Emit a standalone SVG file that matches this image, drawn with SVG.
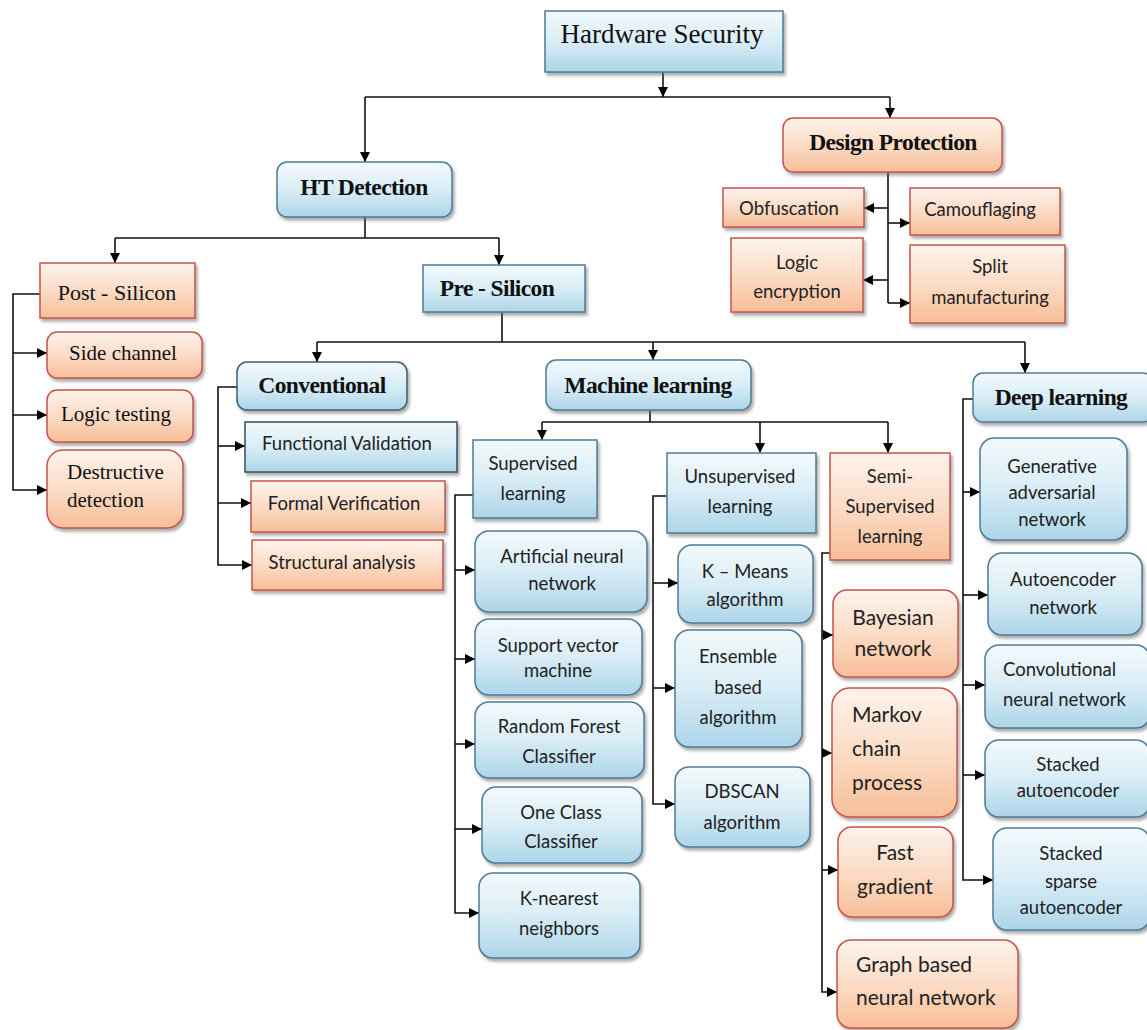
<svg xmlns="http://www.w3.org/2000/svg" width="1147" height="1030" viewBox="0 0 1147 1030">
  <defs>
    <linearGradient id="gBlue" x1="0" y1="0" x2="0" y2="1">
      <stop offset="0" stop-color="#f3f9fc"/>
      <stop offset="0.5" stop-color="#d9edf6"/>
      <stop offset="1" stop-color="#acd5e8"/>
    </linearGradient>
    <linearGradient id="gOrange" x1="0" y1="0" x2="0" y2="1">
      <stop offset="0" stop-color="#fdf3ec"/>
      <stop offset="0.5" stop-color="#fbdcc6"/>
      <stop offset="1" stop-color="#f7be98"/>
    </linearGradient>
    <filter id="shadow" x="-10%" y="-10%" width="130%" height="140%">
      <feDropShadow dx="2" dy="3" stdDeviation="1.6" flood-color="#6a6a6a" flood-opacity="0.55"/>
    </filter>
    <marker id="arrow" viewBox="0 0 10 10" refX="10" refY="5" markerWidth="10" markerHeight="10" markerUnits="userSpaceOnUse" orient="auto">
      <path d="M0,0 L10,5 L0,10 z" fill="#000"/>
    </marker>
  </defs>
  <style>
    .blue { fill: url(#gBlue); stroke: #4d7c97; stroke-width: 1.5; filter: url(#shadow); }
    .orange { fill: url(#gOrange); stroke: #c4554a; stroke-width: 1.5; filter: url(#shadow); }
    .serif { font-family: "Liberation Serif", "Times New Roman", serif; fill: #111; }
    .title { font-size: 23.5px; font-weight: bold; letter-spacing: -0.6px; }
    .leaf { font-size: 21px; }
    .sans { font-family: Lato, "Liberation Sans", sans-serif; font-size: 18.5px; fill: #222; }
    .big { font-size: 21px; }
    .c { text-anchor: middle; }
    .wire { fill: none; stroke: #111; stroke-width: 1.6; }
    .arr { fill: none; stroke: #111; stroke-width: 1.6; marker-end: url(#arrow); }
  </style>
  <rect width="1147" height="1030" fill="#fff"/>

  <!-- connectors -->
  <g id="connectors">
    <path class="arr" d="M663,72 V97"/>
    <path class="wire" d="M365,97 H890"/>
    <path class="arr" d="M365,97 V162"/>
    <path class="arr" d="M890,97 V118"/>
    <!-- design protection branch -->
    <path class="wire" d="M888,172 V303"/>
    <path class="arr" d="M888,208 H864"/>
    <path class="arr" d="M888,223 H910"/>
    <path class="arr" d="M888,280 H863"/>
    <path class="arr" d="M888,303 H910"/>
    <!-- HT detection branch -->
    <path class="wire" d="M365,217 V238"/>
    <path class="wire" d="M115,238 H499"/>
    <path class="arr" d="M115,238 V263"/>
    <path class="arr" d="M499,238 V265"/>
    <!-- post-silicon -->
    <path class="arr" d="M40,294 H13 V490 H47"/>
    <path class="arr" d="M13,353 H47"/>
    <path class="arr" d="M13,415 H47"/>
    <!-- pre-silicon -->
    <path class="wire" d="M502,312 V342"/>
    <path class="wire" d="M317,342 H1025"/>
    <path class="arr" d="M317,342 V362"/>
    <path class="arr" d="M653,342 V360"/>
    <path class="arr" d="M1025,342 V373"/>
    <!-- conventional -->
    <path class="arr" d="M237,387 H218 V565 H252"/>
    <path class="arr" d="M218,446 H245"/>
    <path class="arr" d="M218,503 H251"/>
    <!-- machine learning -->
    <path class="wire" d="M650,410 V422"/>
    <path class="wire" d="M542,422 H888"/>
    <path class="arr" d="M542,422 V440"/>
    <path class="arr" d="M760,422 V453"/>
    <path class="arr" d="M888,422 V453"/>
    <!-- supervised -->
    <path class="arr" d="M473,495 H455 V913 H479"/>
    <path class="arr" d="M455,570 H475"/>
    <path class="arr" d="M455,659 H475"/>
    <path class="arr" d="M455,744 H475"/>
    <path class="arr" d="M455,829 H482"/>
    <!-- unsupervised -->
    <path class="arr" d="M667,496 H653 V804 H675"/>
    <path class="arr" d="M653,583 H678"/>
    <path class="arr" d="M653,688 H675"/>
    <!-- semi-supervised -->
    <path class="arr" d="M830,553 H822 V992 H837"/>
    <path class="arr" d="M822,635 H833"/>
    <path class="arr" d="M822,753 H832"/>
    <path class="arr" d="M822,870 H838"/>
    <!-- deep learning -->
    <path class="arr" d="M973,399 H963 V880 H993"/>
    <path class="arr" d="M963,492 H980"/>
    <path class="arr" d="M963,595 H988"/>
    <path class="arr" d="M963,685 H985"/>
    <path class="arr" d="M963,775 H985"/>
  </g>

  <!-- root -->
  <g id="hardware-security">
    <rect class="blue" x="545" y="11" width="238" height="61"/>
    <text class="serif c" x="662" y="43" font-size="27">Hardware Security</text>
  </g>

  <g id="ht-detection">
    <rect class="blue" x="277" y="162" width="175" height="55" rx="10"/>
    <text class="serif title c" x="364" y="195">HT Detection</text>
  </g>

  <g id="design-protection">
    <rect class="orange" x="783" y="118" width="219" height="54" rx="10"/>
    <text class="serif title c" x="893" y="150">Design Protection</text>
  </g>
  <g id="obfuscation">
    <rect class="orange" x="723" y="188" width="141" height="39"/>
    <text class="sans c" x="789" y="215">Obfuscation</text>
  </g>
  <g id="camouflaging">
    <rect class="orange" x="910" y="188" width="150" height="47"/>
    <text class="sans c" x="980" y="216">Camouflaging</text>
  </g>
  <g id="logic-encryption">
    <rect class="orange" x="731" y="238" width="132" height="74"/>
    <text class="sans c" x="797" y="269">Logic</text>
    <text class="sans c" x="797" y="298">encryption</text>
  </g>
  <g id="split-manufacturing">
    <rect class="orange" x="910" y="245" width="155" height="78"/>
    <text class="sans c" x="990" y="273">Split</text>
    <text class="sans c" x="990" y="304">manufacturing</text>
  </g>

  <g id="post-silicon">
    <rect class="orange" x="40" y="263" width="155" height="55"/>
    <text class="serif c" x="117" y="300" font-size="22">Post - Silicon</text>
  </g>
  <g id="side-channel">
    <rect class="orange" x="47" y="332" width="155" height="46" rx="10"/>
    <text class="serif leaf c" x="123" y="360">Side channel</text>
  </g>
  <g id="logic-testing">
    <rect class="orange" x="47" y="390" width="146" height="52" rx="10"/>
    <text class="serif leaf c" x="116" y="421">Logic testing</text>
  </g>
  <g id="destructive-detection">
    <rect class="orange" x="47" y="450" width="136" height="78" rx="16"/>
    <text class="serif leaf" x="67" y="479">Destructive</text>
    <text class="serif leaf" x="67" y="507">detection</text>
  </g>

  <g id="pre-silicon">
    <rect class="blue" x="423" y="265" width="162" height="47"/>
    <text class="serif title c" x="497" y="296">Pre - Silicon</text>
  </g>

  <g id="conventional">
    <rect class="blue" x="237" y="362" width="170" height="48" rx="10" style="stroke:#3d5f73"/>
    <text class="serif title c" x="322" y="393">Conventional</text>
  </g>
  <g id="functional-validation">
    <rect class="blue" x="245" y="422" width="212" height="50" style="stroke:#2f4f66"/>
    <text class="sans c" x="347" y="450">Functional Validation</text>
  </g>
  <g id="formal-verification">
    <rect class="orange" x="251" y="481" width="194" height="51"/>
    <text class="sans c" x="344" y="510">Formal Verification</text>
  </g>
  <g id="structural-analysis">
    <rect class="orange" x="252" y="540" width="191" height="50"/>
    <text class="sans c" x="342" y="569">Structural analysis</text>
  </g>

  <g id="machine-learning">
    <rect class="blue" x="546" y="360" width="205" height="50" rx="10"/>
    <text class="serif title c" x="648" y="393">Machine learning</text>
  </g>
  <g id="supervised">
    <rect class="blue" x="473" y="440" width="124" height="78"/>
    <text class="sans c" x="533" y="470">Supervised</text>
    <text class="sans c" x="533" y="500">learning</text>
  </g>
  <g id="unsupervised">
    <rect class="blue" x="667" y="453" width="149" height="80"/>
    <text class="sans c" x="740" y="483">Unsupervised</text>
    <text class="sans c" x="740" y="513">learning</text>
  </g>
  <g id="semi-supervised">
    <rect class="orange" x="830" y="453" width="120" height="107"/>
    <text class="sans c" x="890" y="483">Semi-</text>
    <text class="sans c" x="890" y="513">Supervised</text>
    <text class="sans c" x="890" y="543">learning</text>
  </g>

  <g id="ann">
    <rect class="blue" x="475" y="531" width="172" height="81" rx="14"/>
    <text class="sans c" x="562" y="563">Artificial  neural</text>
    <text class="sans c" x="562" y="590">network</text>
  </g>
  <g id="svm">
    <rect class="blue" x="475" y="619" width="167" height="76" rx="14"/>
    <text class="sans c" x="558" y="652">Support vector</text>
    <text class="sans c" x="558" y="677">machine</text>
  </g>
  <g id="random-forest">
    <rect class="blue" x="475" y="702" width="169" height="76" rx="14"/>
    <text class="sans c" x="559" y="733">Random Forest</text>
    <text class="sans c" x="559" y="763">Classifier</text>
  </g>
  <g id="one-class">
    <rect class="blue" x="482" y="787" width="160" height="76" rx="14"/>
    <text class="sans c" x="561" y="819">One Class</text>
    <text class="sans c" x="561" y="848">Classifier</text>
  </g>
  <g id="knn">
    <rect class="blue" x="479" y="873" width="161" height="85" rx="14"/>
    <text class="sans c" x="559" y="905">K-nearest</text>
    <text class="sans c" x="559" y="935">neighbors</text>
  </g>

  <g id="k-means">
    <rect class="blue" x="678" y="545" width="135" height="78" rx="14"/>
    <text class="sans c" x="745" y="578">K – Means</text>
    <text class="sans c" x="745" y="606">algorithm</text>
  </g>
  <g id="ensemble">
    <rect class="blue" x="675" y="630" width="127" height="117" rx="14"/>
    <text class="sans c" x="738" y="663">Ensemble</text>
    <text class="sans c" x="738" y="694">based</text>
    <text class="sans c" x="738" y="724">algorithm</text>
  </g>
  <g id="dbscan">
    <rect class="blue" x="675" y="767" width="135" height="80" rx="14"/>
    <text class="sans c" x="742" y="798">DBSCAN</text>
    <text class="sans c" x="742" y="829">algorithm</text>
  </g>

  <g id="bayesian">
    <rect class="orange" x="833" y="590" width="125" height="87" rx="14"/>
    <text class="sans big c" x="893" y="625">Bayesian</text>
    <text class="sans big c" x="893" y="656">network</text>
  </g>
  <g id="markov">
    <rect class="orange" x="832" y="688" width="125" height="129" rx="18"/>
    <text class="sans big" x="852" y="722">Markov</text>
    <text class="sans big" x="852" y="756">chain</text>
    <text class="sans big" x="852" y="790">process</text>
  </g>
  <g id="fast-gradient">
    <rect class="orange" x="838" y="827" width="115" height="90" rx="14"/>
    <text class="sans big c" x="895" y="860">Fast</text>
    <text class="sans big c" x="895" y="894">gradient</text>
  </g>
  <g id="graph-nn">
    <rect class="orange" x="837" y="940" width="181" height="88" rx="14"/>
    <text class="sans big" x="856" y="972">Graph based</text>
    <text class="sans big" x="856" y="1005">neural network</text>
  </g>

  <g id="deep-learning">
    <rect class="blue" x="973" y="373" width="180" height="49" rx="10"/>
    <text class="serif title c" x="1061" y="405">Deep learning</text>
  </g>
  <g id="gan">
    <rect class="blue" x="980" y="438" width="147" height="102" rx="14"/>
    <text class="sans c" x="1052" y="473">Generative</text>
    <text class="sans c" x="1052" y="499">adversarial</text>
    <text class="sans c" x="1052" y="526">network</text>
  </g>
  <g id="autoencoder">
    <rect class="blue" x="988" y="553" width="154" height="82" rx="14"/>
    <text class="sans c" x="1063" y="586">Autoencoder</text>
    <text class="sans c" x="1063" y="614">network</text>
  </g>
  <g id="cnn">
    <rect class="blue" x="985" y="645" width="165" height="83" rx="14"/>
    <text class="sans" x="1003" y="676">Convolutional</text>
    <text class="sans" x="1003" y="706">neural network</text>
  </g>
  <g id="stacked-ae">
    <rect class="blue" x="985" y="740" width="165" height="77" rx="14"/>
    <text class="sans c" x="1068" y="771">Stacked</text>
    <text class="sans c" x="1068" y="797">autoencoder</text>
  </g>
  <g id="stacked-sparse-ae">
    <rect class="blue" x="993" y="828" width="157" height="102" rx="14"/>
    <text class="sans c" x="1071" y="860">Stacked</text>
    <text class="sans c" x="1071" y="888">sparse</text>
    <text class="sans c" x="1071" y="914">autoencoder</text>
  </g>
</svg>
